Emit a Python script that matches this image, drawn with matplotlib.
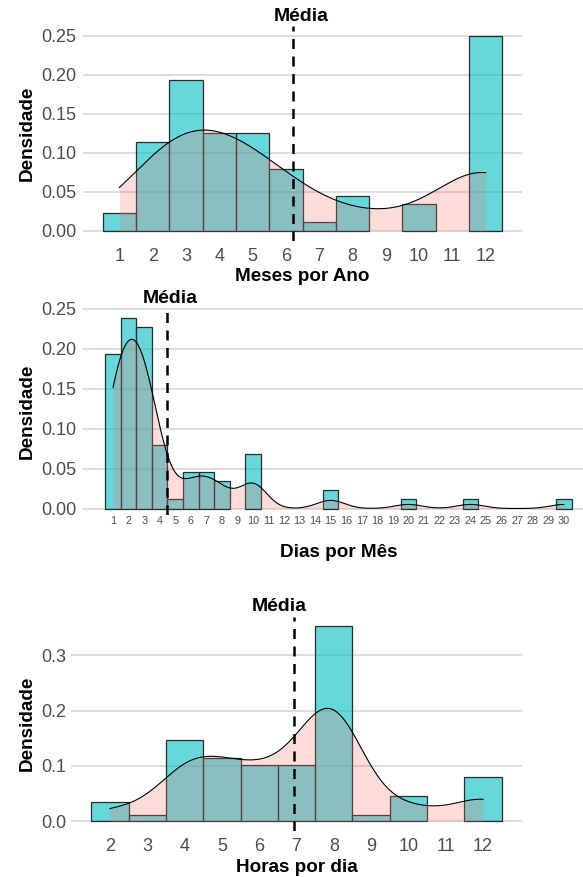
import numpy as np
import matplotlib.pyplot as plt
import matplotlib.transforms as mtransforms
from matplotlib.colors import to_rgba

plt.rcParams['font.family'] = ['Liberation Sans', 'DejaVu Sans']

# contagens de respostas por valor (88 respostas)
meses = np.arange(1, 13)
meses_n = [2, 10, 17, 11, 11, 7, 1, 4, 0, 3, 0, 22]

dias = np.arange(1, 31)
dias_n = [17, 21, 20, 7, 1, 4, 4, 3, 0, 6, 0, 0, 0, 0, 2,
          0, 0, 0, 0, 1, 0, 0, 0, 1, 0, 0, 0, 0, 0, 1]

horas = np.arange(2, 13)
horas_n = [3, 1, 13, 10, 9, 9, 31, 1, 4, 0, 7]

AZUL = to_rgba('#00BFC4', 0.6)
ROSA = '#F8766D'
CINZA = '#4D4D4D'


def densidade(x):
    # kde gaussiana, largura de banda bw.nrd0 como no R
    n = len(x)
    q75, q25 = np.percentile(x, [75, 25])
    bw = 0.9 * min(x.std(ddof=1), (q75 - q25) / 1.34) * n ** -0.2
    grade = np.linspace(x.min(), x.max(), 512)
    z = (grade[:, None] - x[None, :]) / bw
    y = np.exp(-0.5 * z ** 2).sum(axis=1) / (n * bw * np.sqrt(2 * np.pi))
    return grade, y


def painel(fig, rect, valores, contagens, xlim, ylim, yticks, fmt, xlabel,
           tick_size, xpad, ypad, x_media, xlabel_off):
    ax = fig.add_axes(rect)
    dados = np.repeat(valores, contagens)
    n = len(dados)
    cont = np.array(contagens)
    ok = cont > 0
    ax.bar(valores[ok], cont[ok] / n, width=1, facecolor=AZUL,
           edgecolor='#2b2b2b', linewidth=0.9, zorder=2)
    gx, gy = densidade(dados)
    ax.fill_between(gx, gy, color=ROSA, alpha=0.25, linewidth=0, zorder=3)
    ax.plot(gx, gy, color='black', linewidth=0.8, zorder=4)
    ax.axvline(dados.mean(), color='black', linestyle=(0, (4, 3)),
               linewidth=1.8, zorder=5)
    ax.annotate('Média', xy=(x_media, 1), xycoords=('data', 'axes fraction'),
                xytext=(0, 7), textcoords='offset points', ha='center',
                va='center', fontsize=14, fontweight='bold',
                annotation_clip=False)

    ax.set_xlim(xlim)
    ax.set_ylim(ylim)
    ax.set_xticks(valores)
    ax.set_yticks(yticks)
    ax.set_yticklabels([fmt.format(v) for v in yticks])
    ax.grid(axis='y', color='#D3D3D3', linewidth=1.1)
    ax.set_axisbelow(True)
    for s in ax.spines.values():
        s.set_visible(False)
    ax.tick_params(axis='x', length=0, pad=xpad, labelsize=tick_size, labelcolor=CINZA)
    ax.tick_params(axis='y', length=0, pad=ypad, labelsize=13, labelcolor=CINZA)

    ax.set_xlabel(xlabel, fontsize=13.6, fontweight='bold')
    ax.xaxis.set_label_coords(0.5, xlabel_off)
    ax.xaxis.label.set_va('center')
    trans = mtransforms.blended_transform_factory(fig.transFigure, ax.transAxes)
    ax.set_ylabel('Densidade', fontsize=13.6, fontweight='bold')
    ax.yaxis.set_label_coords(27 / 583, 0.5, transform=trans)
    ax.yaxis.label.set_va('center')
    return ax


fig = plt.figure(figsize=(5.83, 8.77), dpi=100)

painel(fig, [0.1419, 0.7255, 0.7540, 0.2446], meses, meses_n,
       (-0.1, 13.1), (-0.0125, 0.2625), [0, 0.05, 0.10, 0.15, 0.20, 0.25],
       '{:.2f}', 'Meses por Ano', 13, 5, 4.8, 6.45, -36 / 214.5)

painel(fig, [0.1407, 0.4128, 0.8796, 0.2357], dias, dias_n,
       (-1.0, 32.0), (-0.0081, 0.2506), [0, 0.05, 0.10, 0.15, 0.20, 0.25],
       '{:.2f}', 'Dias por Mês', 7.8, 0.5, 4.3, 4.7, -37.5 / 206.7)

painel(fig, [0.1214, 0.05245, 0.7743, 0.2445], horas, horas_n,
       (0.95, 13.05), (-0.0176, 0.3699), [0, 0.1, 0.2, 0.3],
       '{:.1f}', 'Horas por dia', 13, 5, 3.5, 6.55, -36 / 214.4)

fig.savefig('out.png', dpi=100)
